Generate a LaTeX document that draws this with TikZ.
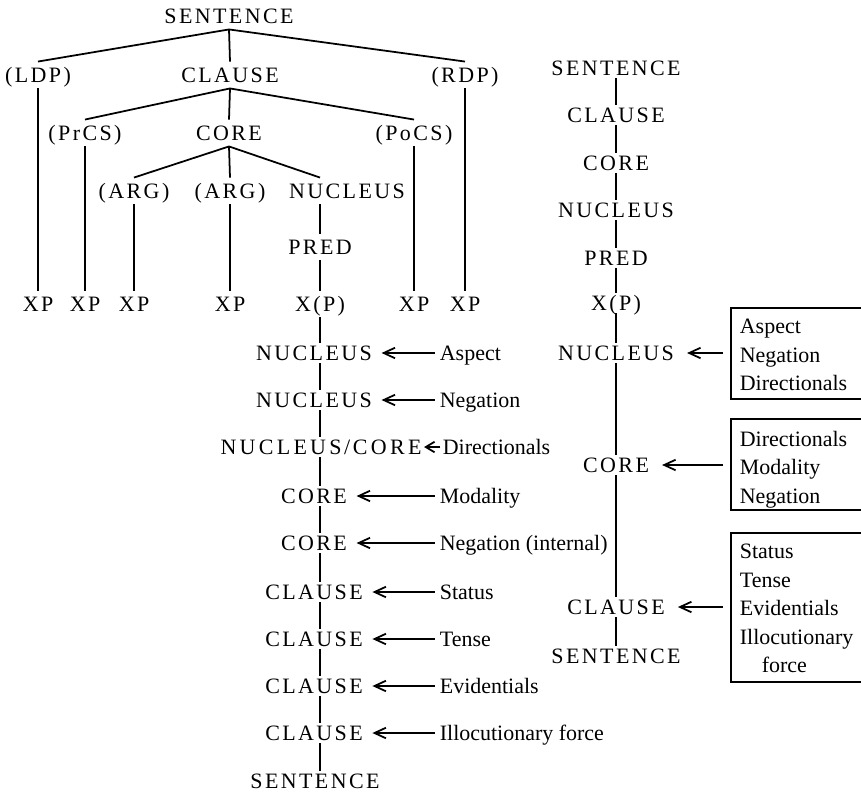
\documentclass[tikz,border=0pt]{standalone}
\usepackage{fontspec}
\setmainfont{Liberation Serif}
\newfontfamily\capfont[LetterSpace=11]{Liberation Serif}
\newfontfamily\capwide[LetterSpace=15]{Liberation Serif}
\usetikzlibrary{arrows.meta}

\begin{document}
\begin{tikzpicture}[x=0.02cm,y=-0.02cm,line width=1pt,
  cat/.style={font=\capfont\fontsize{12.5}{15}\selectfont, inner xsep=1pt, inner ysep=3pt,
              text height=8.3pt, text depth=0pt},
  stk/.style={cat, inner ysep=1.2pt},
  op/.style={font=\fontsize{12.5}{15}\selectfont, anchor=base west, inner sep=0pt},
  oplist/.style={font=\fontsize{12.5}{16.3}\selectfont, anchor=north west, inner sep=0pt, align=left},
  frame/.style={anchor=north west, inner sep=0pt, minimum width=2.6cm},
  arr/.style={-{Straight Barb[length=6.5pt,width=6pt]}, shorten <=2.5pt, shorten >=4pt},
  arrR/.style={-{Straight Barb[length=6.5pt,width=6pt]}, shorten <=4.5pt, shorten >=6pt}]
\useasboundingbox (0,0) rectangle (861,794);

% ---------------- layered structure of the clause ----------------
\node[cat] (s)    at (229,16)  {SENTENCE};
\node[cat] (ldp)  at (38,75)   {(LDP)};
\node[cat] (cl)   at (230,75)  {CLAUSE};
\node[cat] (rdp)  at (465,75)  {(RDP)};
\node[cat] (prcs) at (85,133)  {(PrCS)};
\node[cat] (co)   at (229,133) {CORE};
\node[cat] (pocs) at (414,133) {(PoCS)};
\node[cat] (arg1) at (134,191) {(ARG)};
\node[cat] (arg2) at (230,191) {(ARG)};
\node[cat] (nu)   at (347,191) {NUCLEUS};
\node[cat] (pr)   at (320,247) {PRED};
\node[cat] (xp1)  at (38,304)  {XP};
\node[cat] (xp2)  at (85,304)  {XP};
\node[cat] (xp3)  at (134,304) {XP};
\node[cat] (xp4)  at (230,304) {XP};
\node[cat] (xp)   at (320,304) {X(P)};
\node[cat] (xp5)  at (414,304) {XP};
\node[cat] (xp6)  at (465,304) {XP};

\draw (s.south) -- (ldp.north);
\draw (s.south) -- (cl.north);
\draw (s.south) -- (rdp.north);
\draw (cl.south) -- (prcs.north);
\draw (cl.south) -- (co.north);
\draw (cl.south) -- (pocs.north);
\draw (co.south) -- (arg1.north);
\draw (co.south) -- (arg2.north);
\draw (co.south) -- (pr |- nu.north);
\draw (ldp) -- (xp1);
\draw (prcs) -- (xp2);
\draw (arg1) -- (xp3);
\draw (arg2) -- (xp4);
\draw (pr |- nu.south) -- (pr.north);
\draw (pr) -- (xp);
\draw (pocs) -- (xp5);
\draw (rdp) -- (xp6);

% ---------------- operators, one per layer ----------------
\coordinate (col) at (320,0);
\node[stk] (a1)  at (314,353) {NUCLEUS};
\node[stk] (a2)  at (314,400) {NUCLEUS};
\node[stk, font=\capwide\fontsize{12.5}{15}\selectfont] (a3) at (321,447) {NUCLEUS\kern1.5pt/\kern1.5pt CORE};
\node[stk] (a4)  at (314,496) {CORE};
\node[stk] (a5)  at (314,543) {CORE};
\node[stk] (a6)  at (314,592) {CLAUSE};
\node[stk] (a7)  at (314,639) {CLAUSE};
\node[stk] (a8)  at (314,686) {CLAUSE};
\node[stk] (a9)  at (314,733) {CLAUSE};
\node[stk] (a10) at (315,781) {SENTENCE};

\draw (xp.south -| col) -- (a1.north -| col);
\foreach \u/\v in {a1/a2,a2/a3,a3/a4,a4/a5,a5/a6,a6/a7,a7/a8,a8/a9,a9/a10}
  \draw (\u.south -| col) -- (\v.north -| col);

\node[op] (o1) at (439,360.3) {Aspect};
\node[op] (o2) at (439,407.3) {Negation};
\node[op] (o3) at (442,454.3) {Directionals};
\node[op] (o4) at (439,503.3) {Modality};
\node[op] (o5) at (439,550.3) {Negation (internal)};
\node[op] (o6) at (439,599.3) {Status};
\node[op] (o7) at (439,646.3) {Tense};
\node[op] (o8) at (439,693.3) {Evidentials};
\node[op] (o9) at (439,740.3) {Illocutionary force};

\foreach \o/\a in {o1/a1,o2/a2,o4/a4,o5/a5,o6/a6,o7/a7,o8/a8,o9/a9}
  \draw[arr] (\o.west |- \a.east) -- (\a.east);
\draw[-{Straight Barb[length=5pt,width=6pt]}, shorten <=1pt] (o3.west |- a3.east) -- (a3.east);

% ---------------- operators grouped by layer ----------------
\node[stk] (b1) at (616,68)  {SENTENCE};
\node[stk] (b2) at (616,115) {CLAUSE};
\node[stk] (b3) at (616,163) {CORE};
\node[stk] (b4) at (616,210) {NUCLEUS};
\node[stk] (b5) at (616,258) {PRED};
\node[stk] (b6) at (616,303) {X(P)};
\node[stk] (b7) at (616,353) {NUCLEUS};
\node[stk] (b8) at (616,465) {CORE};
\node[stk] (b9) at (616,607) {CLAUSE};
\node[stk] (b10) at (616,656) {SENTENCE};

\foreach \u/\v in {b1/b2,b2/b3,b3/b4,b4/b5,b5/b6,b6/b7,b7/b8,b8/b9,b9/b10}
  \draw (\u) -- (\v);

% boxes open on the right, running to the edge of the page
\node[frame, minimum height=1.78cm] (f1) at (731,308) {};
\node[frame, minimum height=1.78cm] (f2) at (731,419) {};
\node[frame, minimum height=2.94cm] (f3) at (731,533) {};
\foreach \f in {f1,f2,f3}
  \draw (\f.north east) -- (\f.north west) -- (\f.south west) -- (\f.south east);

\node[oplist] (l1) at (739,318) {Aspect\\Negation\\Directionals};
\node[oplist] (l2) at (739,430) {Directionals\\Modality\\Negation};
\node[oplist] (l3) at (739,543) {Status\\Tense\\Evidentials\\Illocutionary\\\hspace*{1em}force};

\draw[arrR] (f1.west |- b7.east) -- (b7.east);
\draw[arrR] (f2.west |- b8.east) -- (b8.east);
\draw[arrR] (f3.west |- b9.east) -- (b9.east);
\end{tikzpicture}
\end{document}
